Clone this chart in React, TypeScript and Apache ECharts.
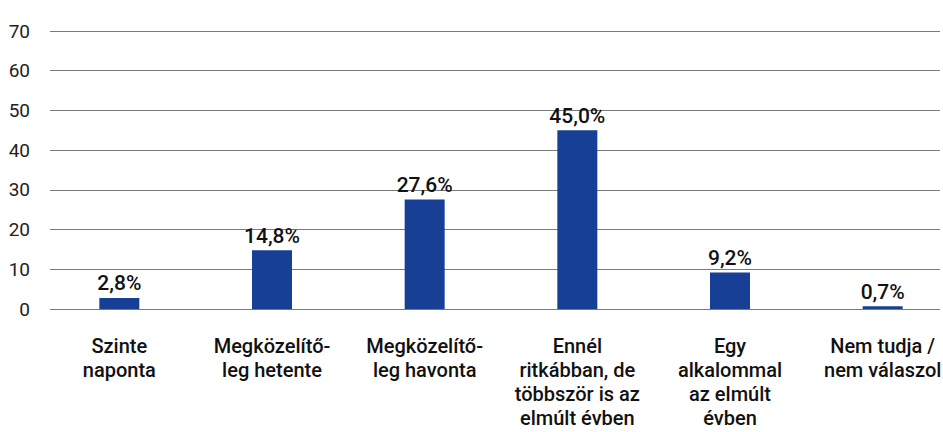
import React, { useEffect, useRef } from "react";
import * as echarts from "echarts";

const categories = [
  "Szinte\nnaponta",
  "Megközelítő-\nleg hetente",
  "Megközelítő-\nleg havonta",
  "Ennél\nritkábban, de\ntöbbször is az\nelmúlt évben",
  "Egy\nalkalommal\naz elmúlt\névben",
  "Nem tudja /\nnem válaszol",
];
const values = [2.8, 14.8, 27.6, 45.0, 9.2, 0.7];
const yMin = 0;
const yMax = 70;
const yStep = 10;

const FONT = "Roboto, 'Open Sans', sans-serif";

export default function App() {
  const ref = useRef<HTMLDivElement>(null);
  useEffect(() => {
    if (!ref.current) return;
    const chart = echarts.init(ref.current, null, { renderer: "svg" });
    chart.setOption({
      animation: false,
      textStyle: { fontFamily: FONT },
      grid: [
        { left: 50, right: 3, top: 31, bottom: 123, outerBoundsMode: "none" },
        { left: 43, width: 916, top: 31, bottom: 123, outerBoundsMode: "none" },
      ],
      xAxis: [
        { gridIndex: 0, type: "category", data: [""], show: false },
        {
          gridIndex: 1,
          type: "category",
          data: categories,
          axisLine: { show: false },
          axisTick: { show: false },
          axisLabel: {
            interval: 0,
            fontSize: 20,
            lineHeight: 24,
            color: "#111",
            fontWeight: 500,
            margin: 25,
            fontFamily: FONT,
          },
        },
      ],
      yAxis: [
        {
          gridIndex: 0,
          type: "value",
          min: yMin,
          max: yMax,
          interval: yStep,
          axisLine: { show: false },
          axisTick: { show: false },
          axisLabel: { fontSize: 19, color: "#222", margin: 20, fontFamily: FONT },
          splitLine: { lineStyle: { color: "#7a7a7a", width: 1 } },
        },
        { gridIndex: 1, type: "value", min: yMin, max: yMax, show: false },
      ],
      series: [
        {
          type: "bar",
          xAxisIndex: 1,
          yAxisIndex: 1,
          data: values,
          barWidth: 40,
          itemStyle: { color: "#183f96" },
          label: {
            show: true,
            position: "top",
            distance: 4,
            fontSize: 21,
            color: "#111",
            fontWeight: 500,
            fontFamily: FONT,
            formatter: (p: any) => p.value.toFixed(1).replace(".", ",") + "%",
          },
        },
      ],
    });
    return () => chart.dispose();
  }, []);
  return (
    <div
      ref={ref}
      style={{ position: "fixed", left: 0, top: 0, width: 943, height: 432, background: "#fff" }}
    />
  );
}
